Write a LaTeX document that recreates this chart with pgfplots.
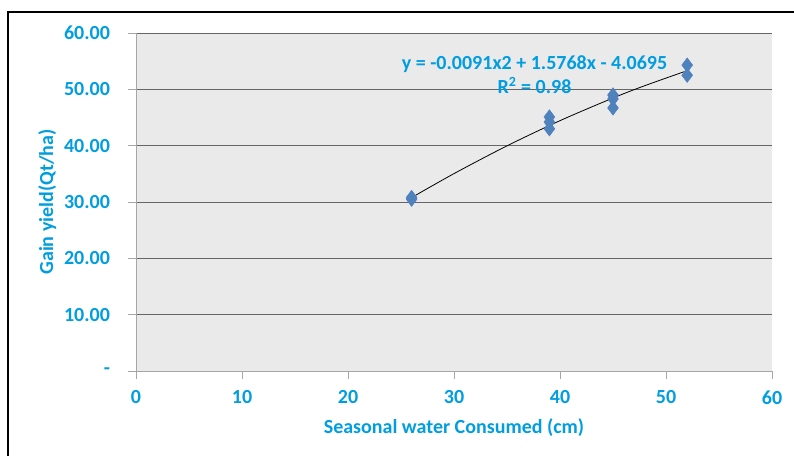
\documentclass[border=0pt]{standalone}
\usepackage{pgfplots}
\pgfplotsset{compat=1.18}
\usepackage{fontspec}
\setmainfont{Carlito}
\definecolor{txtblue}{RGB}{0,158,224}
\definecolor{mkblue}{RGB}{79,129,189}
\definecolor{plotbg}{RGB}{234,234,234}
\begin{document}
\begin{tikzpicture}
\useasboundingbox (-102pt,-63.75pt) rectangle (493.5pt,278.25pt);
\draw[line width=1.3pt] (-96pt,-70pt) -- (-96pt,269.25pt) -- (500pt,269.25pt);
\begin{axis}[
  at={(0pt,0pt)}, anchor=south west,
  scale only axis, width=477pt, height=253.5pt,
  xmin=0, xmax=60, ymin=0, ymax=60,
  xtick={0,10,...,60}, ytick={0,10,...,60},
  yticklabels={-,10.00,20.00,30.00,40.00,50.00,60.00},
  axis background/.style={fill=plotbg},
  axis x line*=bottom, axis y line*=left,
  axis line style={gray!70, line width=0.6pt},
  x axis line style={-}, y axis line style={-},
  tick style={gray!70, line width=0.6pt},
  tick align=outside, major tick length=6pt,
  ymajorgrids, grid style={gray!80!black, line width=0.6pt},
  tick label style={font=\bfseries\fontsize{15}{17}\selectfont, text=txtblue},
  /pgf/number format/assume math mode=true,
  xticklabel style={yshift=-5pt},
  yticklabel style={xshift=-10pt},
  xlabel={Seasonal water Consumed (cm)},
  ylabel={Gain yield(Qt/ha)},
  label style={font=\bfseries\fontsize{15}{17}\selectfont, text=txtblue},
  xlabel style={yshift=-4pt},
  ylabel style={yshift=-1pt},
  clip=false,
]
\addplot[black, line width=0.6pt, smooth, forget plot] coordinates {
  (26,30.78) (30,35.04) (35,39.97) (40,44.44) (45,48.46) (48,50.65) (52,53.32)
};
\addplot[only marks, mark=diamond*, mark size=5.4pt, mark options={fill=mkblue, draw=mkblue}] coordinates {
  (26,30.5) (26,30.8)
  (39,45.1) (39,44.2) (39,43.0)
  (45,49.0) (45,48.3) (45,46.7)
  (52,54.3) (52,52.5)
};
\node[font=\bfseries\fontsize{15}{17}\selectfont, text=txtblue, align=center, inner sep=0pt] at (axis cs:37.6,52.6) {y = -0.0091x2 + 1.5768x - 4.0695\\[1pt]R\textsuperscript{2} = 0.98};
\end{axis}
\end{tikzpicture}
\end{document}
